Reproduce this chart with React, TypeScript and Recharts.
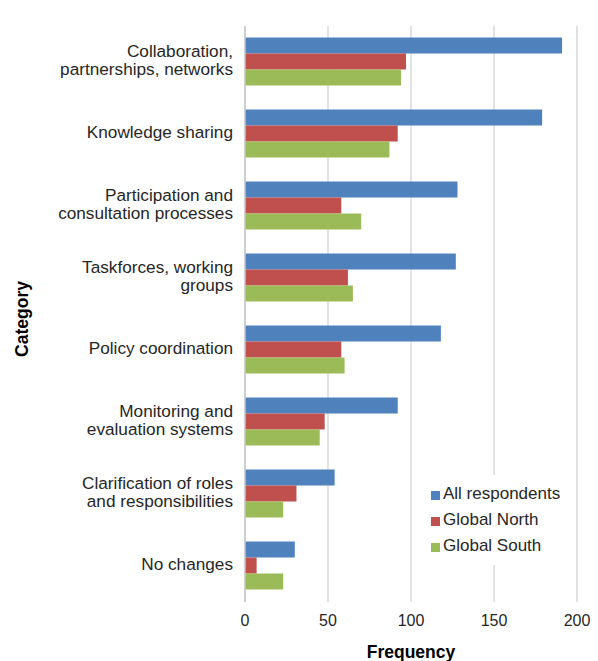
import { BarChart, Bar, XAxis, YAxis, CartesianGrid, Legend } from "recharts";

const categories = [
  "Collaboration,\npartnerships, networks",
  "Knowledge sharing",
  "Participation and\nconsultation processes",
  "Taskforces, working\ngroups",
  "Policy coordination",
  "Monitoring and\nevaluation systems",
  "Clarification of roles\nand responsibilities",
  "No changes",
];
const allRespondents = [191, 179, 128, 127, 118, 92, 54, 30];
const globalNorth = [97, 92, 58, 62, 58, 48, 31, 7];
const globalSouth = [94, 87, 70, 65, 60, 45, 23, 23];
const xTicks = [0, 50, 100, 150, 200];

const seriesList = [
  { key: "all", name: "All respondents", color: "#4f81bd" },
  { key: "north", name: "Global North", color: "#c0504d" },
  { key: "south", name: "Global South", color: "#9bbb59" },
];

const data = categories.map((category, i) => ({
  category,
  all: allRespondents[i],
  north: globalNorth[i],
  south: globalSouth[i],
}));

const FONT = "'Liberation Sans', Arial, Helvetica, sans-serif";

function CategoryTick({ x, y, payload }: any) {
  const lines = String(payload.value).split("\n");
  const lh = 18.5;
  const start = -((lines.length - 1) * lh) / 2 - 2;
  return (
    <text x={x} y={y} textAnchor="end" fontSize={17.2} fill="#262626" fontFamily={FONT}>
      {lines.map((line, i) => (
        <tspan key={i} x={x} y={y + start + i * lh} dy="0.36em">
          {line}
        </tspan>
      ))}
    </text>
  );
}

function LegendBox() {
  return (
    <div style={{ background: "#fff", padding: "6px 8px 6px 4px", fontFamily: FONT }}>
      {seriesList.map((s) => (
        <div key={s.key} style={{ display: "flex", alignItems: "center", height: 26, fontSize: 17, color: "#262626" }}>
          <span style={{ width: 9, height: 9, background: s.color, marginRight: 3, marginTop: 3 }} />
          {s.name}
        </div>
      ))}
    </div>
  );
}

export default function App() {
  return (
    <div style={{ position: "absolute", left: 0, top: 0 }}>
      <BarChart
        width={598}
        height={661}
        data={data}
        layout="vertical"
        margin={{ top: 26, right: 21, bottom: 0, left: 0 }}
        barCategoryGap="16%"
        barGap={0}
      >
        <CartesianGrid horizontal={false} stroke="#d9d9d9" strokeWidth={1.5} />
        <XAxis
          type="number"
          domain={[0, 200]}
          ticks={xTicks}
          height={59}
          tickLine={false}
          axisLine={false}
          tickMargin={7}
          tick={{ fontSize: 16, fill: "#262626", fontFamily: FONT }}
          label={{
            value: "Frequency",
            position: "insideBottom",
            offset: 3,
            fontSize: 17.5,
            fontWeight: "bold",
            fill: "#000",
            fontFamily: FONT,
          }}
        />
        <YAxis
          type="category"
          dataKey="category"
          width={245}
          tickLine={false}
          axisLine={{ stroke: "#c8c8c8", strokeWidth: 1.5 }}
          tickMargin={6}
          tick={<CategoryTick />}
          interval={0}
          label={{
            content: () => (
              <text
                x={22}
                y={319}
                transform="rotate(-90, 22, 319)"
                textAnchor="middle"
                dominantBaseline="central"
                fontSize={17.5}
                fontWeight="bold"
                fontFamily={FONT}
                fill="#000"
              >
                Category
              </text>
            ),
          }}
        />
        <Legend
          layout="vertical"
          align="center"
          verticalAlign="middle"
          content={<LegendBox />}
          wrapperStyle={{ left: 427, top: 475, width: "auto" }}
        />
        {seriesList.map((s) => (
          <Bar key={s.key} dataKey={s.key} name={s.name} fill={s.color} isAnimationActive={false} />
        ))}
      </BarChart>
    </div>
  );
}
